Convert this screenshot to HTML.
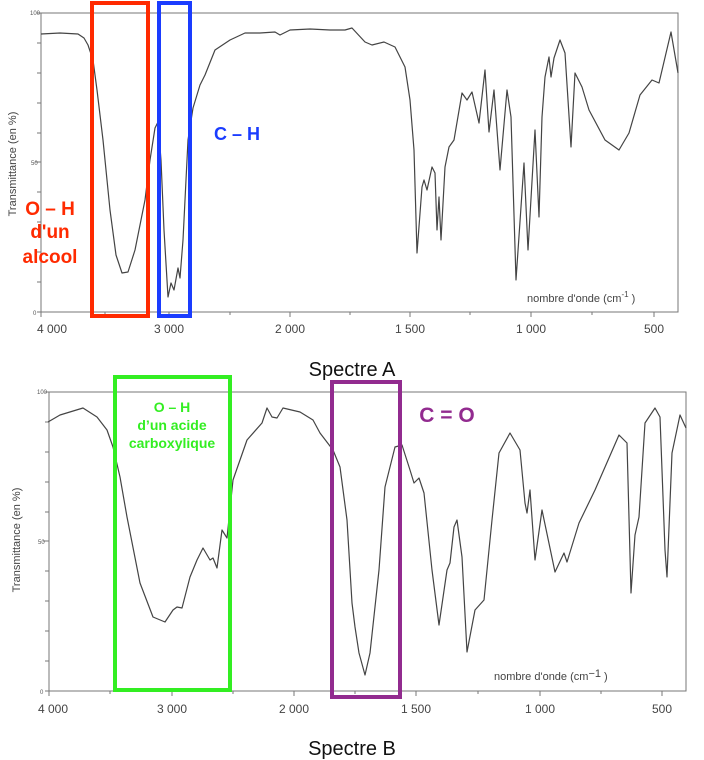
<!DOCTYPE html>
<html><head><meta charset="utf-8"><style>
body{margin:0;background:#fff;width:704px;height:760px;overflow:hidden}
svg{display:block}
text{font-family:"Liberation Sans",sans-serif}
</style></head><body>
<svg width="704" height="760" viewBox="0 0 704 760" xmlns="http://www.w3.org/2000/svg">
<!-- Chart A frame -->
<g stroke="#777" fill="none" stroke-width="1">
<rect x="41" y="13" width="637" height="299"/>
<rect x="49" y="392" width="637" height="299"/>
</g>
<g stroke="#777" stroke-width="1">
<path d="M37 13h4M37 43h4M37 73h4M37 103h4M37 133h4M35 162h6M37 192h4M37 222h4M37 252h4M37 282h4M37 312h4"/>
<path d="M41 312v5M169 312v5M290 312v5M410 312v5M531 312v5M654 312v5M105 312v3M230 312v3M350 312v3M470 312v3M592 312v3"/>
<path d="M45 392h4M45 422h4M45 452h4M45 482h4M45 512h4M43 541h6M45 571h4M45 601h4M45 631h4M45 661h4M45 691h4"/>
<path d="M49 691v5M172 691v5M294 691v5M416 691v5M540 691v5M662 691v5M110 691v3M233 691v3M355 691v3M478 691v3M601 691v3"/>
</g>
<g font-size="6" fill="#555">
<text x="30" y="15">100</text><text x="31" y="165">50</text><text x="33" y="315">0</text>
<text x="37" y="394">100</text><text x="38" y="544">50</text><text x="40" y="694">0</text>
</g>
<text transform="translate(16,164) rotate(-90)" font-size="11" fill="#444" text-anchor="middle">Transmittance (en %)</text>
<text transform="translate(20,540) rotate(-90)" font-size="11" fill="#444" text-anchor="middle">Transmittance (en %)</text>
<g font-size="12" fill="#444" text-anchor="middle">
<text x="52" y="333">4 000</text><text x="169" y="333">3 000</text><text x="290" y="333">2 000</text><text x="410" y="333">1 500</text><text x="531" y="333">1 000</text><text x="654" y="333">500</text>
<text x="53" y="713">4 000</text><text x="172" y="713">3 000</text><text x="294" y="713">2 000</text><text x="416" y="713">1 500</text><text x="540" y="713">1 000</text><text x="662" y="713">500</text>
</g>
<text x="527" y="302" font-size="11" fill="#444">nombre d'onde (cm<tspan dy="-5" font-size="8">-1</tspan><tspan dy="5"> )</tspan></text>
<text x="494" y="680" font-size="11" fill="#444">nombre d'onde (cm<tspan dy="-3">−1</tspan><tspan dy="3"> )</tspan></text>
<text x="352" y="376" font-size="20" text-anchor="middle" fill="#111">Spectre A</text>
<text x="352" y="755" font-size="20" text-anchor="middle" fill="#111">Spectre B</text>
<!-- curves -->
<g fill="none" stroke="#444" stroke-width="1.2" stroke-linejoin="round">
<polyline points="41,34 60,33 78,34 84,38 88,45 93,60 97,90 103,140 110,210 116,255 122,273 128,272 135,250 145,200 150,160 155,128 158,122 161,160 164,230 168,297 171,283 174,290 178,268 180,278 183,240 188,140 193,108 200,85 205,75 215,50 230,40 245,33 260,33 275,32 280,35 290,30 310,29 330,30 345,30 352,28 365,42 372,45 384,42 395,47 405,67 410,100 414,150 417,253 422,187 424,180 427,190 432,167 435,173 437,230 439,197 441,240 445,167 449,147 454,140 462,93 467,100 472,92 479,123 485,70 489,132 494,90 500,170 507,90 511,117 516,280 524,163 528,250 535,130 539,217 542,117 545,77 549,57 551,77 554,58 560,40 565,53 571,147 575,73 582,87 589,110 605,140 619,150 629,133 640,95 652,80 659,83 671,32 678,73"/>
<polyline points="48,422 60,415 83,408 97,417 107,430 113,447 120,477 127,517 140,583 153,617 165,622 173,610 177,607 182,608 190,577 197,560 203,548 210,560 213,558 217,568 222,530 227,538 233,480 247,440 262,423 267,408 272,417 277,418 283,408 300,412 313,420 320,433 333,450 340,467 347,520 352,603 355,627 359,653 365,675 370,653 379,570 385,487 395,447 402,445 410,470 414,483 419,478 424,493 432,570 439,625 447,570 450,563 454,527 457,520 462,557 467,652 475,610 484,600 492,520 499,453 510,433 520,450 525,503 527,513 530,490 535,560 542,510 555,572 564,553 567,562 579,523 595,490 619,435 627,443 631,593 635,535 639,517 645,423 655,408 660,417 665,550 667,577 672,453 680,415 686,428"/>
</g>
<!-- highlight boxes -->
<g fill="none" stroke-width="4">
<rect x="92" y="3" width="56" height="313" stroke="#ff2a00"/>
<rect x="159" y="3" width="31" height="313" stroke="#1a3cff"/>
<rect x="115" y="377" width="115" height="313" stroke="#33ee22"/>
<rect x="332" y="382" width="68" height="315" stroke="#922b8f"/>
</g>
<g font-weight="bold" text-anchor="middle">
<text x="237" y="140" font-size="18" fill="#1a3cff">C – H</text>
<text x="50" y="215" font-size="19" fill="#ff2a00">O – H</text>
<text x="50" y="238" font-size="19" fill="#ff2a00">d'un</text>
<text x="50" y="263" font-size="19" fill="#ff2a00">alcool</text>
<text x="172" y="412" font-size="14" fill="#33ee22">O – H</text>
<text x="172" y="430" font-size="14" fill="#33ee22">d’un acide</text>
<text x="172" y="448" font-size="14" fill="#33ee22">carboxylique</text>
<text x="447" y="422" font-size="21" fill="#922b8f">C = O</text>
</g>
</svg>
</body></html>
